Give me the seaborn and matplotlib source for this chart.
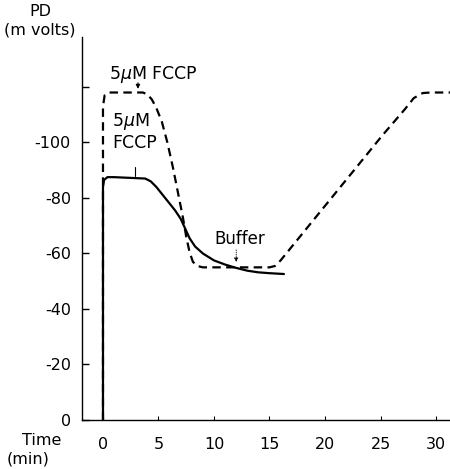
import matplotlib
matplotlib.use('Agg')
import matplotlib.pyplot as plt
import seaborn as sns
import pandas as pd

# trace: membrane potential (mV) vs time (min)
time_a = [0, 0, 0.1, 0.4, 1.0, 3.8, 4.3, 4.8, 5.3, 5.9, 6.5, 7.0, 7.4, 7.8,
          8.3, 9.0, 10.0, 11.0, 12.0, 13.0, 14.0, 15.0, 16.3]
pd_a = [0, -84, -86.5, -87.5, -87.5, -87, -86, -84, -81.5, -78.5, -75.5, -72.5,
        -69, -65.5, -62.5, -60, -57.5, -56, -54.8, -53.8, -53.2, -52.9, -52.6]

time_b = [0, 0, 0.15, 0.5, 3.6, 4.0, 4.4, 4.8, 5.3, 5.8, 6.3, 6.8, 7.2, 7.5,
          7.8, 8.1, 8.5, 9.0, 15.0, 15.5, 16.0, 25.2, 27.2, 28.0, 28.8, 29.5,
          31.3]
pd_b = [0, -113, -117, -118, -118, -117.3, -115.5, -112.5, -107.5, -100, -91,
        -81, -73, -66, -60.5, -57, -55.5, -55, -55, -55.5, -57.5, -102.7, -112,
        -116, -117.8, -118, -118]

yticks = [-120, -100, -80, -60, -40, -20, 0]
ytick_labels = ['', '-100', '-80', '-60', '-40', '-20', '0']
xticks = [0, 5, 10, 15, 20, 25, 30]

df = pd.concat([
    pd.DataFrame({'time': time_a, 'pd': pd_a, 'trace': 'a'}),
    pd.DataFrame({'time': time_b, 'pd': pd_b, 'trace': 'b'}),
], ignore_index=True)

sns.set_style('ticks')
plt.rcParams['font.family'] = ['DejaVu Sans']
plt.rcParams['text.color'] = 'black'
plt.rcParams['xtick.color'] = 'black'
plt.rcParams['ytick.color'] = 'black'
plt.rcParams['axes.edgecolor'] = 'black'

fig = plt.figure(figsize=(4.5, 4.69), dpi=100)
ax = fig.add_axes([82 / 450, 1 - 420 / 469, (450 - 82) / 450, (420 - 37) / 469])

sns.lineplot(data=df, x='time', y='pd', style='trace',
             dashes={'a': '', 'b': (3.8, 2.4)},
             color='black', lw=1.6, sort=False, estimator=None,
             legend=False, ax=ax)

ax.set_xlim(-1.89, 31.26)
ax.set_ylim(0, -138)
ax.set_yticks(yticks)
ax.set_yticklabels(ytick_labels)
ax.set_xticks(xticks)
ax.set_xticklabels([str(t) for t in xticks])
ax.set_xlabel('')
ax.set_ylabel('')
ax.tick_params(axis='y', direction='in', length=5, width=1, labelsize=11.5,
               pad=8, colors='black')
ax.tick_params(axis='x', direction='in', length=3, width=0.8, labelsize=11.5,
               pad=12, colors='black')
sns.despine(ax=ax)
for s in ['left', 'bottom']:
    ax.spines[s].set_linewidth(1.0)

# annotations
ax.text(4.5, -124.5, '5$\\mu$M FCCP', ha='center', va='center', fontsize=12.5)
ax.annotate('', xy=(3.15, -118.3), xytext=(3.15, -122.5),
            arrowprops=dict(arrowstyle='-|>', lw=0.8, color='black', mutation_scale=6))
ax.text(0.8, -104, '5$\\mu$M\nFCCP', ha='left', va='center', fontsize=12.5,
        linespacing=1.15)
ax.plot([2.9, 2.9], [-91, -88], color='black', lw=0.8)
ax.text(12.3, -65.2, 'Buffer', ha='center', va='center', fontsize=12)
ax.annotate('', xy=(12.0, -55.9), xytext=(12.0, -62.3),
            arrowprops=dict(arrowstyle='-|>', lw=0.6, ls=':', color='black',
                            mutation_scale=6))

fig.text(40 / 450, 1 - 12 / 469, 'PD', ha='center', va='center', fontsize=11.5)
fig.text(40 / 450, 1 - 30 / 469, '(m volts)', ha='center', va='center', fontsize=11.5)
fig.text(42 / 450, 1 - 440 / 469, 'Time', ha='center', va='center', fontsize=11.5)
fig.text(28 / 450, 1 - 459 / 469, '(min)', ha='center', va='center', fontsize=11.5)

fig.savefig('out.png', dpi=100)
